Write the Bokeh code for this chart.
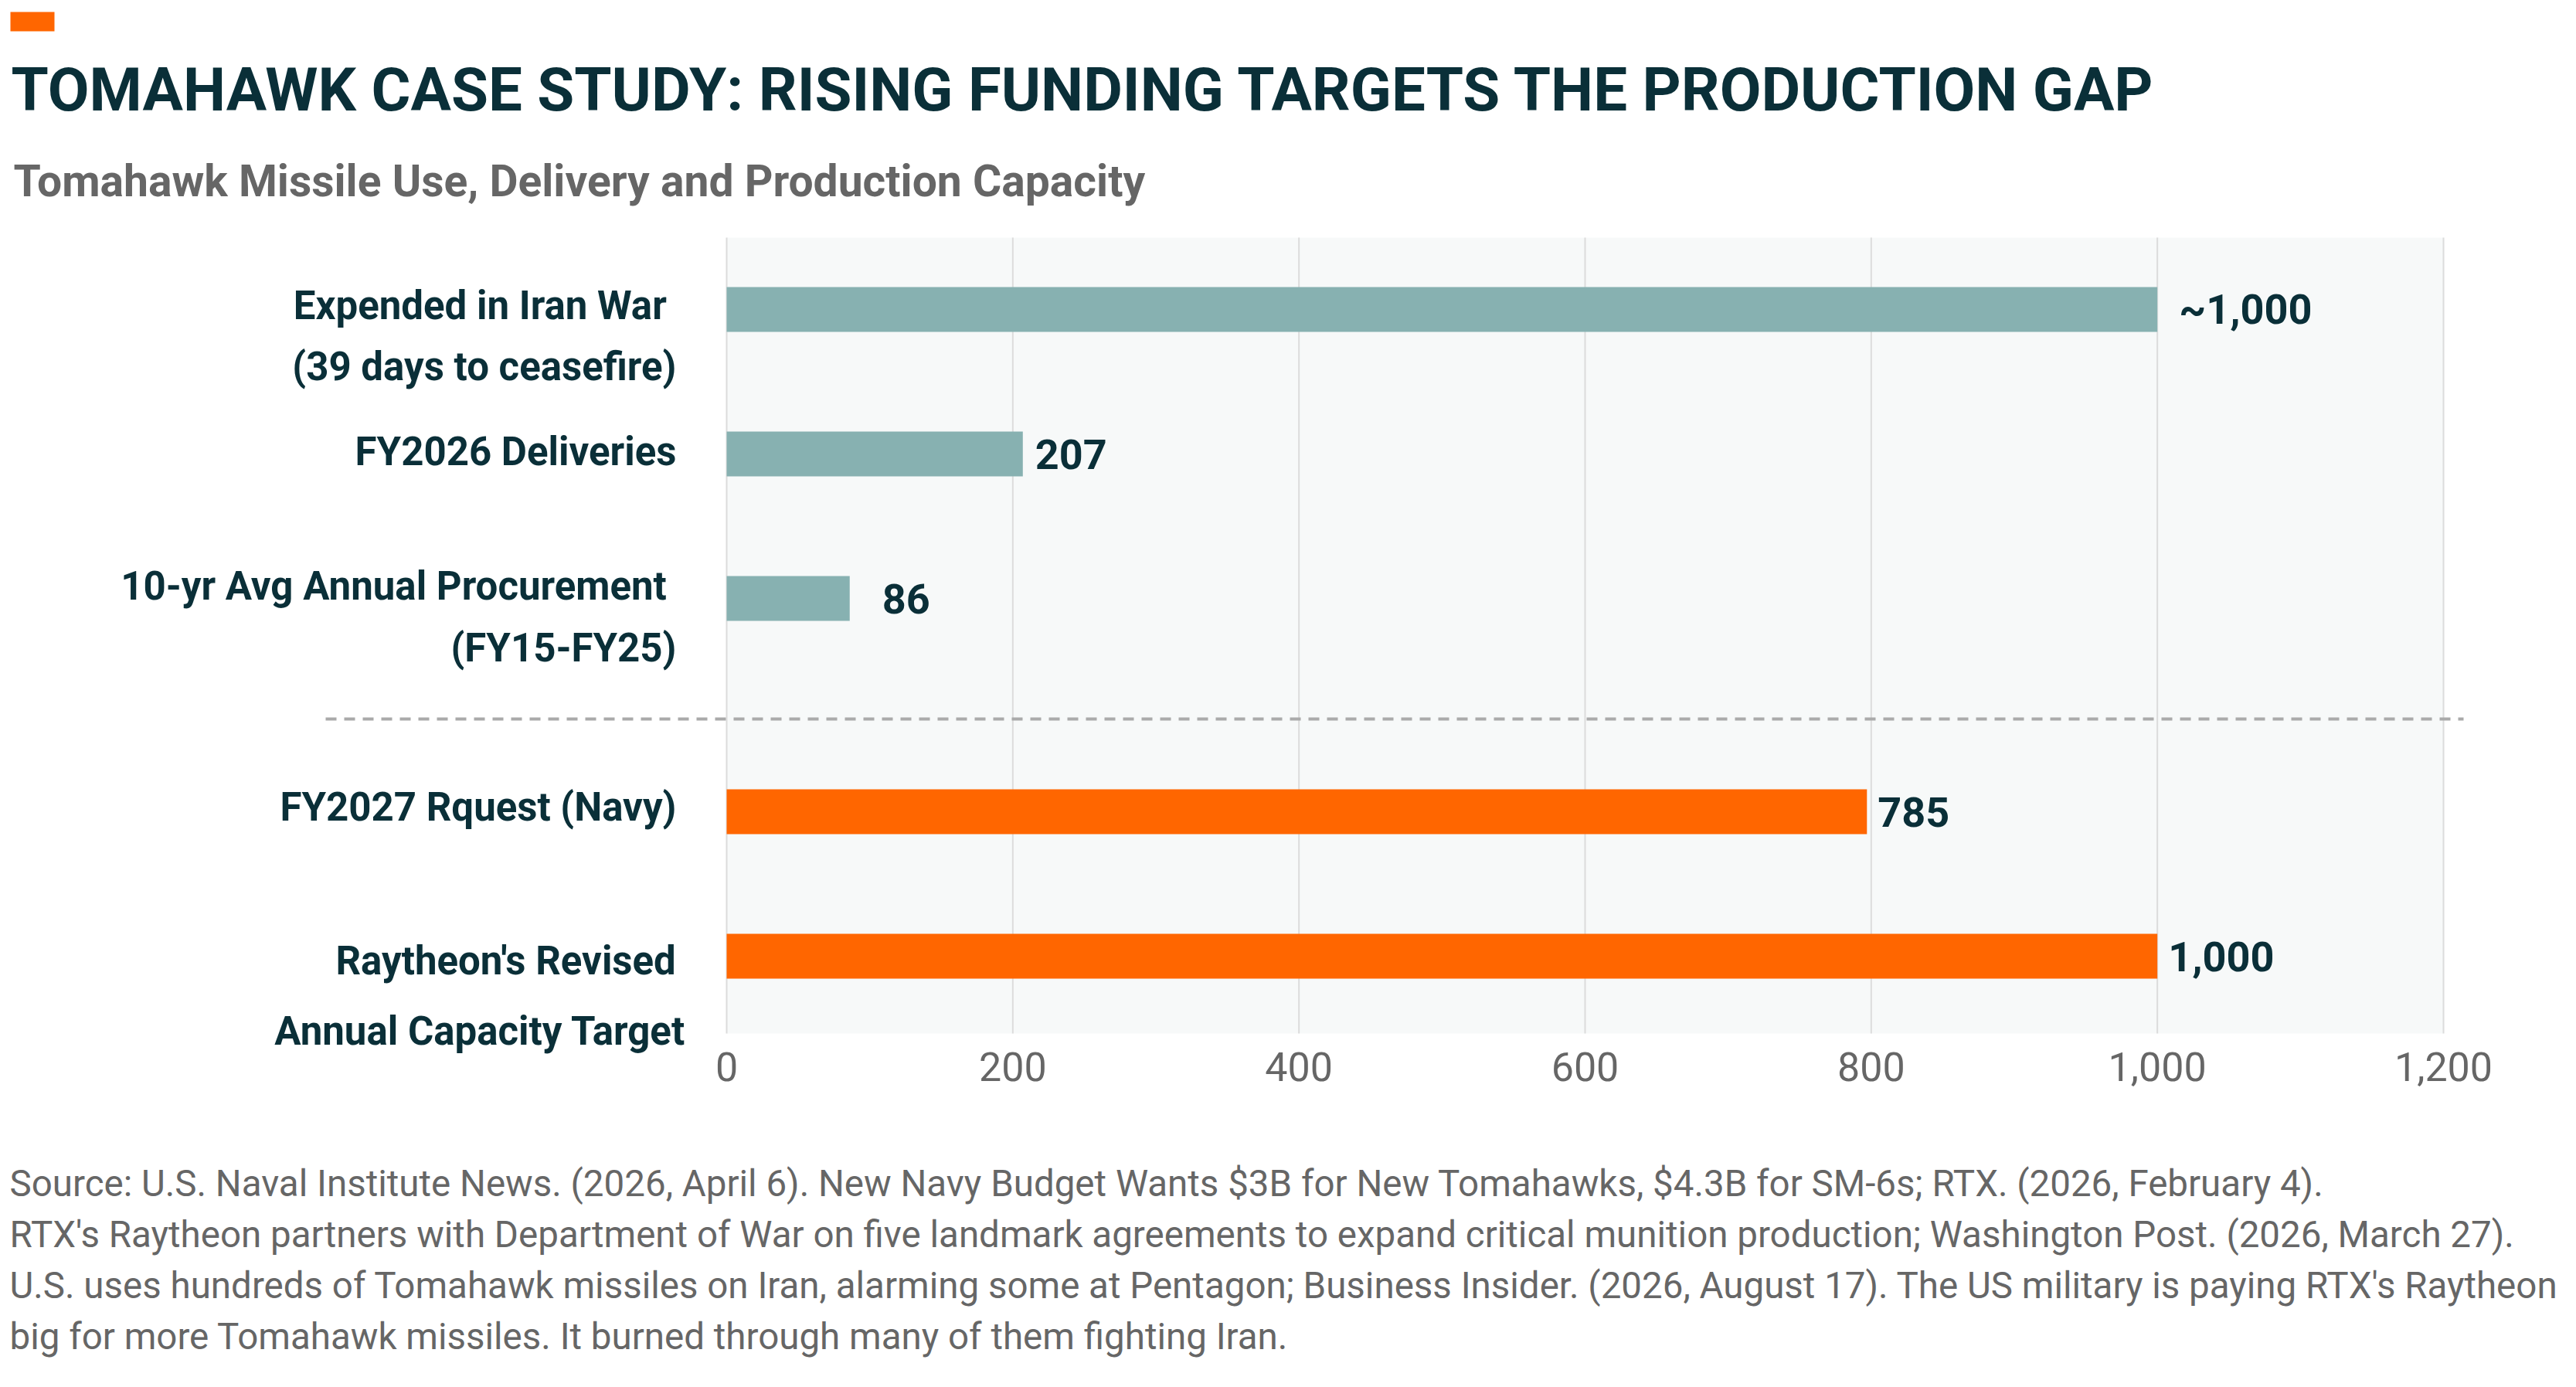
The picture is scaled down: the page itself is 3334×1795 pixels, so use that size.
from bokeh.plotting import figure
from bokeh.layouts import column
from bokeh.models import (Range1d, FixedTicker, NumeralTickFormatter, Label,
                          ColumnDataSource)
from bokeh.core.properties import value
from bokeh.embed import file_html
from bokeh.resources import INLINE

# ---------------- data ----------------
categories = [
    "Expended in Iran War \n(39 days to ceasefire)",
    "FY2026 Deliveries",
    "10-yr Avg Annual Procurement \n(FY15-FY25)",
    "FY2027 Rquest (Navy)",
    "Raytheon's Revised \nAnnual Capacity Target",
]
bar_values = [1000, 207, 86, 797, 1000]
value_labels = ["~1,000", "207", "86", "785", "1,000"]
groups = ["use", "use", "use", "plan", "plan"]
x_ticks = [0, 200, 400, 600, 800, 1000, 1200]

title_text = "TOMAHAWK CASE STUDY: RISING FUNDING TARGETS THE PRODUCTION GAP"
subtitle_text = "Tomahawk Missile Use, Delivery and Production Capacity"
source_lines = [
    "Source: U.S. Naval Institute News. (2026, April 6). New Navy Budget Wants $3B for New Tomahawks, $4.3B for SM-6s; RTX. (2026, February 4).",
    "RTX's Raytheon partners with Department of War on five landmark agreements to expand critical munition production; Washington Post. (2026, March 27).",
    "U.S. uses hundreds of Tomahawk missiles on Iran, alarming some at Pentagon; Business Insider. (2026, August 17). The US military is paying RTX's Raytheon",
    "big for more Tomahawk missiles. It burned through many of them fighting Iran.",
]

# ---------------- styles / layout ----------------
group_colors = {"use": "#87b1b1", "plan": "#ff6600"}
DARK = "#0a2f38"
GREY = "#666666"
FONT = "Roboto"

W, H = 3330, 1790
H1 = 1470                       # height of the chart figure, rest is the source note
FRAME_BOT = 1368                # bottom of the chart frame (page px)
BG_TOP, BG_BOT = 307, 1337      # plot-area band (page px)
X0_PX, X1200_PX = 940, 3162     # page px of x=0 and x=1200
PX_PER_UNIT = (X1200_PX - X0_PX) / 1200.0
ROW0_PX, SLOT = 400, 187.0
GROUP_GAP = 0.476
BAR_H = 0.31
SEP_PX, SEP_L, SEP_R = 930, 421, 3188

label_line_dy = [[-5, 74], [-3], [-16, 64], [-6], [6, 97]]   # px, down positive
label_dx = [-65, -65, -65, -65, -53]                          # px from x=0
value_gap_px = [28, 16, 42, 14, 14]


def dx(px):
    return (px - X0_PX) / PX_PER_UNIT


def dy(py):
    return (py - ROW0_PX) / SLOT


positions = [i + (GROUP_GAP if g == "plan" else 0.0) for i, g in enumerate(groups)]
colors = [group_colors[g] for g in groups]

p = figure(width=W, height=H1, title=None,
           x_range=Range1d(dx(0), dx(W)), y_range=Range1d(dy(FRAME_BOT), dy(0)),
           output_backend="svg", toolbar_location=None, tools="",
           y_axis_location=None,
           min_border_left=0, min_border_right=0, min_border_top=0,
           min_border_bottom=H1 - FRAME_BOT)
p.outline_line_color = None
p.background_fill_color = "white"
p.border_fill_color = "white"
p.xgrid.visible = False
p.ygrid.visible = False

# plot-area background
p.quad(left=[x_ticks[0]], right=[x_ticks[-1]], top=[dy(BG_TOP)], bottom=[dy(BG_BOT)],
       fill_color="#f7f9f9", line_color=None, level="image")

# vertical grid lines at the ticks, limited to the band
p.segment(x0=x_ticks, x1=x_ticks, y0=[dy(BG_TOP)] * len(x_ticks),
          y1=[dy(BG_BOT)] * len(x_ticks), line_color="#dcdcdc", line_width=2,
          level="underlay")

# x axis
ax = p.xaxis[0]
ax.ticker = FixedTicker(ticks=x_ticks)
ax.formatter = NumeralTickFormatter(format="0,0")
ax.axis_line_color = None
ax.major_tick_line_color = None
ax.minor_tick_line_color = None
ax.major_tick_out = 0
ax.major_tick_in = 0
ax.major_label_text_font = FONT
ax.major_label_text_font_size = "52px"
ax.major_label_text_color = GREY
ax.major_label_standoff = -7

# bars
src = ColumnDataSource(dict(pos=positions, val=bar_values, lab=value_labels,
                            col=colors, gap=value_gap_px))
p.hbar(y="pos", left=0, right="val", height=BAR_H, fill_color="col",
       line_color=None, source=src)
p.text(x="val", y="pos", text="lab", x_offset="gap", source=src,
       text_baseline="middle", text_align="left",
       text_font=value(FONT), text_font_style="bold",
       text_font_size="54px", text_color=DARK)

# separator between the two groups
p.segment(x0=[dx(SEP_L)], x1=[dx(SEP_R)], y0=[dy(SEP_PX)], y1=[dy(SEP_PX)],
          line_color="#aaaaaa", line_width=4, line_dash="14 10")

# category labels
for cat, pos, dys, xo in zip(categories, positions, label_line_dy, label_dx):
    for line, d in zip(cat.split("\n"), dys):
        p.add_layout(Label(x=0, y=pos, x_offset=xo, y_offset=-d, text=line,
                           text_align="right", text_baseline="middle",
                           text_font=FONT, text_font_style="bold",
                           text_font_size="51px", text_color=DARK))

# accent, title, subtitle
p.quad(left=[dx(13)], right=[dx(70)], top=[dy(15)], bottom=[dy(40)],
       fill_color="#ff6600", line_color=None)
p.add_layout(Label(x=dx(14), y=dy(116), text=title_text, text_align="left",
                   text_baseline="middle", text_font=FONT,
                   text_font_style="bold", text_font_size="78px", text_color=DARK))
p.add_layout(Label(x=dx(17), y=dy(234), text=subtitle_text, text_align="left",
                   text_baseline="middle", text_font=FONT,
                   text_font_style="bold", text_font_size="57px", text_color=GREY))

# source note (second figure, y in px from its top)
H2 = H - H1
q = figure(width=W, height=H2, title=None, x_range=Range1d(0, W),
           y_range=Range1d(H2, 0), output_backend="svg", toolbar_location=None,
           tools="", x_axis_location=None, y_axis_location=None,
           min_border_left=0, min_border_right=0, min_border_top=0,
           min_border_bottom=0)
q.outline_line_color = None
q.xgrid.visible = False
q.ygrid.visible = False
q.border_fill_color = "white"
q.background_fill_color = "white"
src_note = ColumnDataSource(dict(
    x=[12] * len(source_lines),
    y=[1531 - H1 + 66 * i for i in range(len(source_lines))],
    t=source_lines))
q.text(x="x", y="y", text="t", source=src_note, text_align="left",
       text_baseline="middle", text_font=value(FONT), text_font_size="47.5px",
       text_color=GREY)

open("out.html", "w").write(file_html(column(p, q, spacing=0), INLINE))
